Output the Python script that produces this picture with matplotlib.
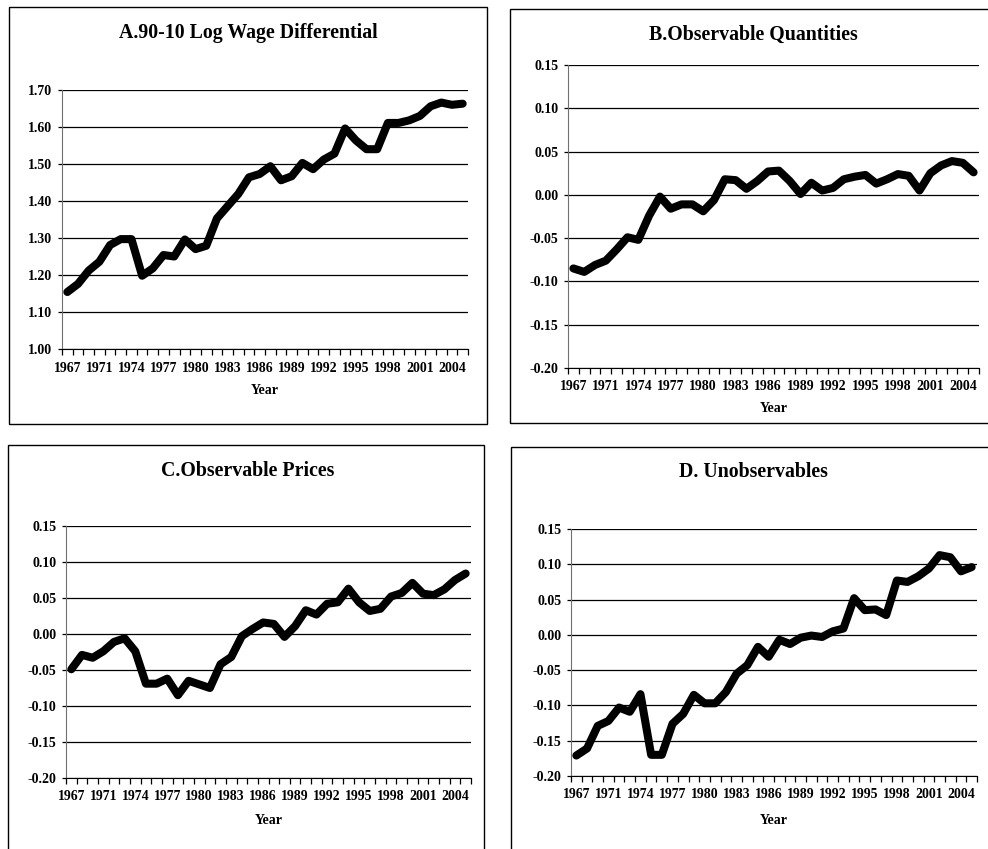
import matplotlib
matplotlib.use("Agg")
import matplotlib.pyplot as plt
from matplotlib.patches import Rectangle
import numpy as np

plt.rcParams['font.family'] = ['Liberation Serif', 'DejaVu Serif']
plt.rcParams['font.weight'] = 'bold'

# categories (one year is missing in the source series)
years = [1967, 1968, 1969] + list(range(1971, 2006))

wage_9010 = [1.154, 1.176, 1.212, 1.236, 1.281, 1.297, 1.297, 1.198, 1.218, 1.254,
             1.250, 1.296, 1.270, 1.279, 1.353, 1.386, 1.419, 1.464, 1.473, 1.494,
             1.456, 1.467, 1.503, 1.486, 1.512, 1.528, 1.596, 1.564, 1.540, 1.540,
             1.611, 1.611, 1.618, 1.630, 1.656, 1.666, 1.660, 1.663]

obs_quantities = [-0.085, -0.089, -0.081, -0.076, -0.063, -0.049, -0.052, -0.024, -0.002, -0.016,
                  -0.011, -0.011, -0.019, -0.006, 0.018, 0.017, 0.007, 0.016, 0.027, 0.028,
                  0.016, 0.001, 0.014, 0.005, 0.008, 0.018, 0.021, 0.023, 0.013, 0.018,
                  0.024, 0.022, 0.005, 0.025, 0.034, 0.039, 0.037, 0.026]

obs_prices = [-0.049, -0.029, -0.033, -0.024, -0.011, -0.006, -0.024, -0.069, -0.069, -0.062,
              -0.085, -0.065, -0.070, -0.075, -0.042, -0.032, -0.003, 0.007, 0.016, 0.014,
              -0.004, 0.011, 0.033, 0.027, 0.042, 0.044, 0.063, 0.044, 0.032, 0.035,
              0.052, 0.057, 0.071, 0.056, 0.054, 0.062, 0.075, 0.084]

unobservables = [-0.171, -0.161, -0.129, -0.122, -0.103, -0.109, -0.084, -0.170, -0.170, -0.126,
                 -0.112, -0.085, -0.097, -0.097, -0.081, -0.055, -0.043, -0.017, -0.031, -0.007,
                 -0.013, -0.004, -0.001, -0.003, 0.005, 0.009, 0.052, 0.035, 0.036, 0.028,
                 0.077, 0.075, 0.083, 0.094, 0.113, 0.110, 0.090, 0.096]

W, H = 988, 849
fig = plt.figure(figsize=(W / 100, H / 100), dpi=100)


def fx(px):
    return px / W


def fy(py):
    return 1 - py / H


def panel(box, plot, title, title_xy, year_y, values, yticks):
    # outer frame of the panel
    x0, y0, x1, y1 = box
    fig.patches.append(Rectangle((fx(x0), fy(y1)), fx(x1 - x0), (y1 - y0) / H,
                                 transform=fig.transFigure, fill=False,
                                 edgecolor='black', lw=1.0))
    l, t, r, b = plot
    ax = fig.add_axes([fx(l), fy(b), fx(r - l), (b - t) / H])
    x = np.arange(len(values))
    ax.plot(x, values, color='black', lw=5.8, solid_joinstyle='round',
            solid_capstyle='round', zorder=3)
    ax.set_xlim(-0.5, len(values) - 0.5)
    ax.set_ylim(yticks[0], yticks[-1])
    ax.set_yticks(yticks)
    ax.set_yticklabels(['%.2f' % v for v in yticks])
    ax.yaxis.grid(True, color='black', lw=0.9)
    ax.set_axisbelow(True)
    ax.set_xticks(x[::3])
    ax.set_xticklabels([str(y) for y in years[::3]])
    ax.set_xticks(np.arange(len(values) + 1) - 0.5, minor=True)
    ax.tick_params(axis='x', which='major', length=0, pad=9, labelsize=10)
    ax.tick_params(axis='x', which='minor', length=4, width=0.9, direction='out')
    ax.tick_params(axis='y', length=3, width=0.9, pad=4, labelsize=10)
    for lab in ax.get_xticklabels() + ax.get_yticklabels():
        lab.set_fontweight('bold')
    ax.spines['top'].set_visible(False)
    ax.spines['right'].set_visible(False)
    ax.spines['left'].set_color('#707070')
    ax.spines['bottom'].set_color('black')
    fig.text(fx(title_xy[0]), fy(title_xy[1]), title, ha='center', va='center',
             fontsize=14.3, fontweight='bold')
    fig.text(fx((l + r) / 2), fy(year_y), 'Year', ha='center', va='center',
             fontsize=10, fontweight='bold')
    return ax


small = [-0.20, -0.15, -0.10, -0.05, 0.00, 0.05, 0.10, 0.15]

panel((9, 7, 487, 424), (62, 90, 468, 349), 'A.90-10 Log Wage Differential',
      (248, 33), 391, wage_9010, [1.0, 1.1, 1.2, 1.3, 1.4, 1.5, 1.6, 1.7])
panel((510, 9, 1000, 423), (568, 65, 979, 368), 'B.Observable Quantities',
      (753, 35), 409, obs_quantities, small)
panel((8, 445, 484, 870), (66, 526, 471, 778), 'C.Observable Prices',
      (248, 471), 820, obs_prices, small)
panel((511, 447, 1000, 870), (571, 529, 977, 776), 'D. Unobservables',
      (753, 472), 820, unobservables, small)

fig.savefig('out.png', dpi=100)
